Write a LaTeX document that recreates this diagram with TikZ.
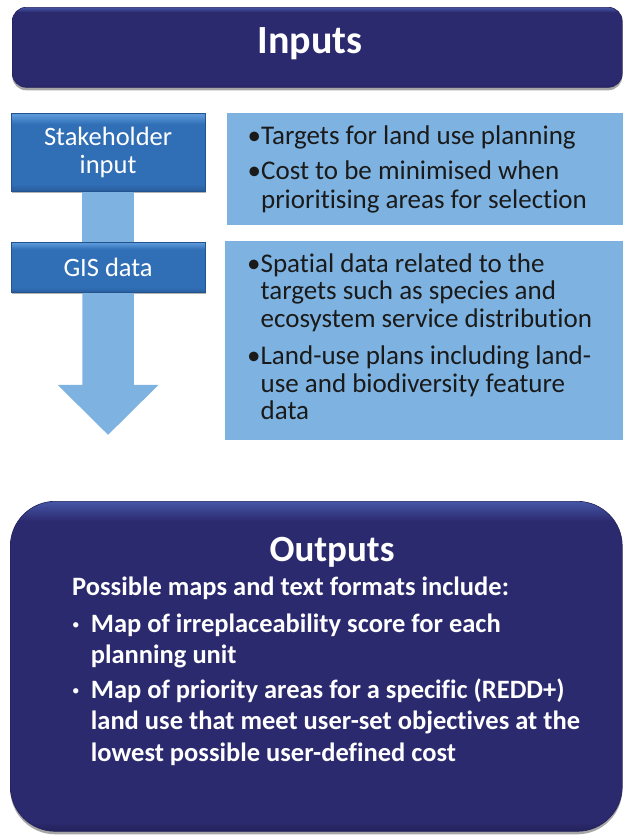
\documentclass[tikz,border=0pt]{standalone}
\usepackage{fontspec}
\setmainfont{Carlito}[Ligatures={NoCommon,NoContextual}]
\usetikzlibrary{shadows,calc}
\definecolor{navy}{HTML}{2C2A6F}
\definecolor{navyl}{HTML}{4556A6}
\definecolor{navyd}{HTML}{23225A}
\definecolor{midb}{HTML}{306FB6}
\definecolor{midbl}{HTML}{5A97D8}
\definecolor{midbd}{HTML}{285C9C}
\definecolor{midborder}{HTML}{24548F}
\definecolor{lightb}{HTML}{7EB3E1}
\definecolor{txt}{HTML}{1A1A1A}
\pgfdeclareverticalshading{navybevel}{100bp}{color(0bp)=(navyd); color(25bp)=(navyd); color(26.5bp)=(navy); color(72bp)=(navy); color(75bp)=(navyl); color(100bp)=(navyl)}
\pgfdeclareverticalshading{midbevel}{100bp}{color(0bp)=(midbd); color(25bp)=(midbd); color(30bp)=(midb); color(68bp)=(midb); color(74bp)=(midbl); color(75bp)=(midbl); color(100bp)=(midbl)}
\tikzset{
  navybox/.style={shade, shading=navybevel, draw=navyd, line width=0.6pt, inner sep=0pt,
    drop shadow={shadow xshift=0pt, shadow yshift=-3pt, opacity=0.35, fill=black}},
  midbox/.style={shade, shading=midbevel, draw=midborder, line width=0.8pt, inner sep=0pt,
    text=white, align=center, font=\fontsize{26.5}{28}\selectfont,
    drop shadow={shadow xshift=1pt, shadow yshift=-2pt, opacity=0.3, fill=black}},
  lightbox/.style={fill=lightb, draw=none, inner sep=0pt},
  bodytext/.style={anchor=base west, inner sep=0pt, text=txt},
  conn/.style={fill=lightb, draw=none}
}
\newcommand{\smallbul}{\makebox[18.7pt][l]{\raisebox{2.5pt}{\fontsize{15}{15}\selectfont\mdseries •}}}
\begin{document}
\begin{tikzpicture}[x=1pt,y=-1pt]
\useasboundingbox (0,0) rectangle (623,836);
\fill[white] (0,0) rectangle (623,836);

% Inputs header
\node[navybox, rounded corners=14pt, minimum width=610pt, minimum height=80pt, anchor=north west] (inputs) at (12,7) {};
\node[anchor=base, inner sep=0pt, text=white, font=\fontsize{40}{44}\selectfont\bfseries] (inputsl) at (310,53.5) {Inputs};

% Left boxes
\node[midbox, minimum width=194pt, minimum height=78pt, anchor=north west] (sh) at (10.7,113) {Stakeholder\\input};
\node[midbox, minimum width=194pt, minimum height=50pt, anchor=north west] (gis) at (10.7,242) {GIS data};

% connector and arrow
\fill[conn] ($(sh.south)+(-25.8,0.4)$) rectangle ($(gis.north)+(25.8,-0.4)$);
\coordinate (tip) at ($(gis.south)+(0,142)$);
\fill[conn] ($(gis.south)+(-25.8,0.4)$) -- ($(gis.south)+(-25.8,92)$) -- ($(gis.south)+(-50.5,92)$) -- (tip)
  -- ($(gis.south)+(50.5,92)$) -- ($(gis.south)+(25.8,92)$) -- ($(gis.south)+(25.8,0.4)$) -- cycle;

% Right boxes
\node[lightbox, minimum width=396.5pt, minimum height=112pt, anchor=north west] (t1) at (226.5,113) {};
\node[bodytext] (t1text) at (247.5,144.5) {\fontsize{27}{28.5}\selectfont
  \begin{tabular}[t]{@{}l@{}l@{}}
  •&Targets for land use planning\\[6.5pt]
  •&Cost to be minimised when\\
   &prioritising areas for selection
  \end{tabular}};

\node[lightbox, minimum width=398.5pt, minimum height=199pt, anchor=north west] (t2) at (224.5,241) {};
\node[bodytext] (t2text) at (247,272) {\fontsize{27}{27.5}\selectfont
  \begin{tabular}[t]{@{}l@{}l@{}}
  •&Spatial data related to the\\
   &targets such as species and\\
   &ecosystem service distribution\\[10pt]
  •&Land-use plans including land-\\
   &use and biodiversity feature\\
   &data
  \end{tabular}};

% Outputs
\node[navybox, rounded corners=45pt, minimum width=612pt, minimum height=330pt, anchor=north west] (outputs) at (10,501) {};
\node[anchor=base, inner sep=0pt, text=white, font=\fontsize{37}{40}\selectfont\bfseries] (outputsl) at (332,561) {Outputs};
\node[anchor=base west, inner sep=0pt, text=white] (otext) at (72,595) {\fontsize{26.5}{31}\selectfont\bfseries
  \begin{tabular}[t]{@{}l@{}l@{}}
  \multicolumn{2}{@{}l@{}}{Possible maps and text formats include:}\\[6pt]
  \smallbul&Map of irreplaceability score for each\\
   &planning unit\\[4pt]
  \smallbul&Map of priority areas for a specific (REDD+)\\
   &land use that meet user-set objectives at the\\[1pt]
   &lowest possible user-defined cost
  \end{tabular}};
\end{tikzpicture}
\end{document}
